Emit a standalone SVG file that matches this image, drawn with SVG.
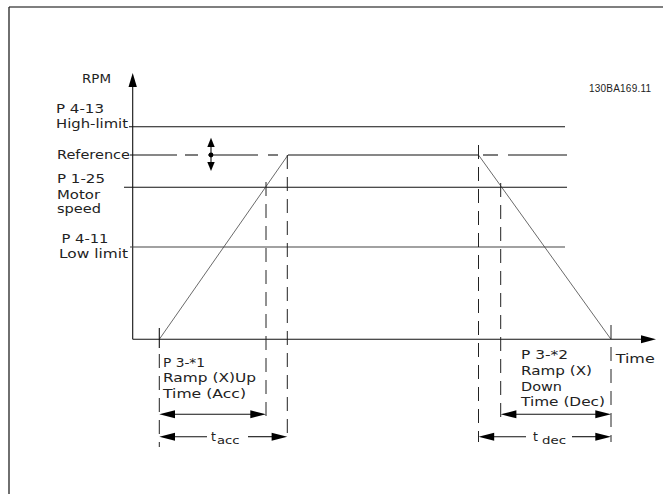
<svg xmlns="http://www.w3.org/2000/svg" width="663" height="494" viewBox="0 0 663 494">
<style>
.lbl{font-family:"DejaVu Sans",Verdana,sans-serif;font-size:12.5px;fill:#222}
.sub{font-family:"DejaVu Sans",Verdana,sans-serif;font-size:10.5px;fill:#222}
.code{font-family:"Liberation Sans",Arial,sans-serif;font-size:10px;fill:#222}
.ln{stroke:#111;stroke-width:1.1;fill:none}
.dash{stroke:#222;stroke-width:1;fill:none;stroke-dasharray:14 8}
.ramp{stroke:#444;stroke-width:0.8;fill:none}
.head{fill:#000}
</style>
<rect width="663" height="494" fill="#fff"/>
<g id="frame">
<line x1="9" y1="7" x2="663" y2="7" stroke="#555" stroke-width="1.6"/>
<line x1="9" y1="7" x2="9" y2="494" stroke="#222" stroke-width="1.3"/>
</g>
<g id="axes">
<line class="ln" x1="132.7" y1="85" x2="132.7" y2="339.3"/>
<polygon class="head" points="132.7,73 128.5,87 136.9,87"/>
<line class="ln" x1="132.7" y1="339.3" x2="642" y2="339.3"/>
<polygon class="head" points="656,339.3 641,335.3 641,343.3"/>
</g>
<g id="levels">
<line class="ln" x1="129" y1="126.7" x2="565" y2="126.7"/>
<line class="ln" x1="124" y1="187.3" x2="567" y2="187.3"/>
<line x1="130" y1="247" x2="565" y2="247" stroke="#444" stroke-width="1.2"/>
<g id="reference-line" class="ln">
<line x1="130" y1="155" x2="177" y2="155"/>
<line x1="185" y1="155" x2="198" y2="155"/>
<line x1="208" y1="155" x2="258" y2="155"/>
<line x1="268" y1="155" x2="278" y2="155"/>
<line x1="483" y1="155" x2="498" y2="155"/>
<line x1="508" y1="155" x2="567" y2="155"/>
</g>
</g>
<g id="ref-adjust">
<line class="ln" x1="211" y1="146" x2="211" y2="163"/>
<polygon class="head" points="211,137.7 207.3,147 214.7,147"/>
<polygon class="head" points="211,171 207.3,162 214.7,162"/>
<circle cx="211" cy="155" r="2.4" fill="#000"/>
</g>
<g id="profile">
<line class="ramp" x1="159.3" y1="339.3" x2="288" y2="155"/>
<line class="ln" x1="288" y1="155" x2="478.5" y2="155"/>
<line class="ramp" x1="478.5" y1="155" x2="611" y2="339.3"/>
</g>
<g id="guides">
<line class="ln" x1="159.3" y1="328" x2="159.3" y2="348"/>
<line class="dash" x1="159.3" y1="354" x2="159.3" y2="447"/>
<line class="dash" x1="266" y1="182" x2="266" y2="418"/>
<line class="dash" x1="287.3" y1="155" x2="287.3" y2="440"/>
<line class="dash" x1="478.5" y1="145" x2="478.5" y2="442"/>
<line class="dash" x1="500.7" y1="183" x2="500.7" y2="417"/>
<line class="dash" x1="611" y1="325" x2="611" y2="442"/>
</g>
<g id="connectors">
<line class="ln" x1="170" y1="414.3" x2="255" y2="414.3"/>
<polygon class="head" points="159.3,414.3 175,410.3 175,418.3"/>
<polygon class="head" points="266,414.3 250.3,410.3 250.3,418.3"/>
<line class="ln" x1="170" y1="436.7" x2="207" y2="436.7"/>
<line class="ln" x1="248" y1="436.7" x2="276" y2="436.7"/>
<polygon class="head" points="159.3,436.7 175,432.7 175,440.7"/>
<polygon class="head" points="287.3,436.7 271.6,432.7 271.6,440.7"/>
<line class="ln" x1="511" y1="414.3" x2="600" y2="414.3"/>
<polygon class="head" points="500.7,414.3 516.4,410.3 516.4,418.3"/>
<polygon class="head" points="611,414.3 595.3,410.3 595.3,418.3"/>
<line class="ln" x1="489" y1="436.7" x2="526" y2="436.7"/>
<line class="ln" x1="572" y1="436.7" x2="600" y2="436.7"/>
<polygon class="head" points="478.5,436.7 494.2,432.7 494.2,440.7"/>
<polygon class="head" points="611,436.7 595.3,432.7 595.3,440.7"/>
</g>
<g id="labels">
<text class="lbl" x="82" y="83" textLength="29" lengthAdjust="spacingAndGlyphs">RPM</text>
<text class="code" x="589" y="92" textLength="62" lengthAdjust="spacing">130BA169.11</text>
<text class="lbl" x="56" y="113" textLength="48" lengthAdjust="spacingAndGlyphs">P 4-13</text>
<text class="lbl" x="56" y="128" textLength="72" lengthAdjust="spacingAndGlyphs">High-limit</text>
<text class="lbl" x="57" y="159" textLength="73" lengthAdjust="spacingAndGlyphs">Reference</text>
<text class="lbl" x="57" y="183" textLength="48" lengthAdjust="spacingAndGlyphs">P 1-25</text>
<text class="lbl" x="57" y="198.5" textLength="43" lengthAdjust="spacingAndGlyphs">Motor</text>
<text class="lbl" x="57" y="213" textLength="44" lengthAdjust="spacingAndGlyphs">speed</text>
<text class="lbl" x="61.5" y="243" textLength="47" lengthAdjust="spacingAndGlyphs">P 4-11</text>
<text class="lbl" x="59" y="257.5" textLength="69" lengthAdjust="spacingAndGlyphs">Low limit</text>
<text class="lbl" x="163" y="366.5" textLength="42" lengthAdjust="spacingAndGlyphs">P 3-*1</text>
<text class="lbl" x="163" y="382" textLength="93" lengthAdjust="spacingAndGlyphs">Ramp (X)Up</text>
<text class="lbl" x="163" y="397.5" textLength="83" lengthAdjust="spacingAndGlyphs">Time (Acc)</text>
<text class="lbl" x="211" y="441">t</text>
<text class="sub" x="217" y="443.5" textLength="22.5" lengthAdjust="spacingAndGlyphs">acc</text>
<text class="lbl" x="521" y="359" textLength="47" lengthAdjust="spacingAndGlyphs">P 3-*2</text>
<text class="lbl" x="521" y="375" textLength="71" lengthAdjust="spacingAndGlyphs">Ramp (X)</text>
<text class="lbl" x="521" y="390.5" textLength="41" lengthAdjust="spacingAndGlyphs">Down</text>
<text class="lbl" x="521" y="406" textLength="84" lengthAdjust="spacingAndGlyphs">Time (Dec)</text>
<text class="lbl" x="533" y="441">t</text>
<text class="sub" x="542" y="443.5" textLength="24" lengthAdjust="spacingAndGlyphs">dec</text>
<text class="lbl" x="615.7" y="363" textLength="39" lengthAdjust="spacingAndGlyphs">Time</text>
</g>
</svg>
